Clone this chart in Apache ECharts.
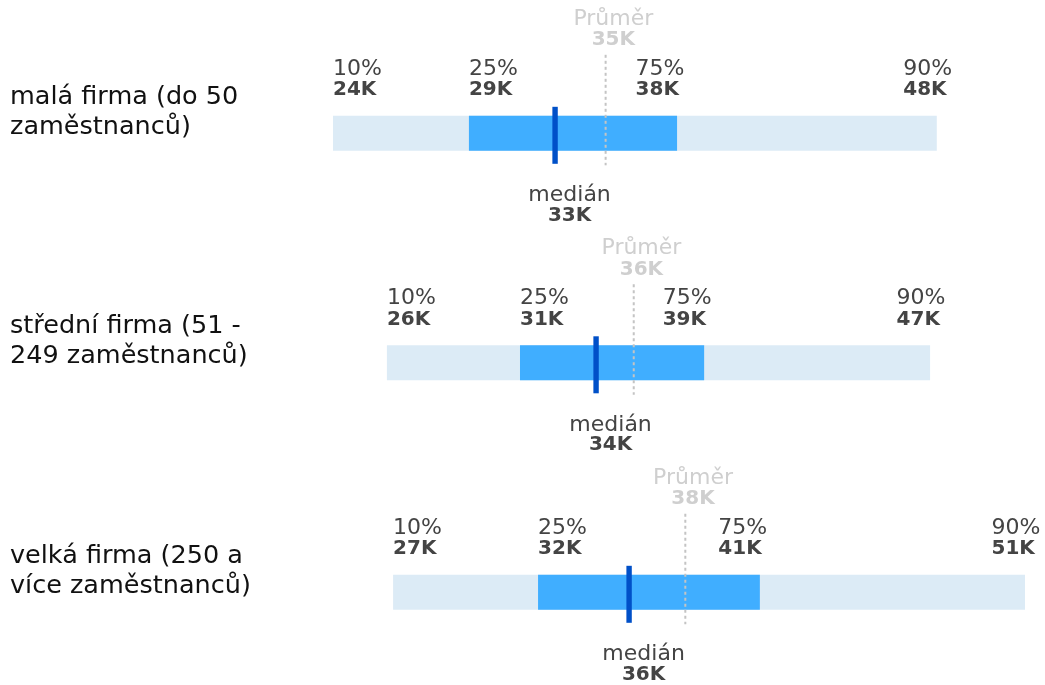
<!DOCTYPE html>
<html>
<head>
<meta charset="utf-8">
<script src="https://cdn.jsdelivr.net/npm/echarts@6/dist/echarts.min.js"></script>
<style>
html,body{margin:0;padding:0;background:#fff;}
#chart{width:1045px;height:685px;}
</style>
</head>
<body>
<div id="chart"></div>
<script>
const categories = ['malá firma (do 50\nzaměstnanců)', 'střední firma (51 -\n249 zaměstnanců)', 'velká firma (250 a\nvíce zaměstnanců)'];
const p10 = [24200, 26290, 26530];
const p25 = [29470, 31450, 32150];
const median = [32810, 34400, 35680];
const mean = [34770, 35860, 37860];
const p75 = [37540, 38590, 40750];
const p90 = [47610, 47350, 51030];
const pctLabels = ['10%', '25%', '75%', '90%'];
const meanLabel = 'Průměr';
const medianLabel = 'medián';

const FONT = '"DejaVu Sans", sans-serif';
const fmt = v => Math.round(v / 1000) + 'K';

function txt(text, x, y, opts) {
  return {
    type: 'text',
    style: Object.assign({
      text: text, x: x, y: y,
      fontFamily: FONT, fontSize: 22, fontWeight: 'normal',
      fill: '#444', align: 'left', verticalAlign: 'middle'
    }, opts || {})
  };
}

function renderItem(params, api) {
  const i = params.dataIndex;
  const c = api.coord([p10[i], i])[1];
  const X = v => api.coord([v, i])[0];
  const x10 = X(p10[i]), x25 = X(p25[i]), x50 = X(median[i]), xm = X(mean[i]), x75 = X(p75[i]), x90 = X(p90[i]);
  const children = [];
  children.push({ type: 'rect', shape: { x: x10, y: c - 17.5, width: x90 - x10, height: 35 }, style: { fill: '#dcebf6' } });
  children.push({ type: 'rect', shape: { x: x25, y: c - 17.5, width: x75 - x25, height: 35 }, style: { fill: '#40aeff' } });
  children.push({ type: 'line', shape: { x1: xm, y1: c - 78.5, x2: xm, y2: c + 32 }, style: { stroke: '#c4c4c4', lineWidth: 2, lineDash: [3, 3] } });
  children.push({ type: 'rect', shape: { x: x50 - 2.7, y: c - 26.5, width: 5.4, height: 57 }, style: { fill: '#0050c8' } });

  const pcts = [[x10, p10[i]], [x25, p25[i]], [x75 - 41.5, p75[i]], [x90 - 33.5, p90[i]]];
  pcts.forEach((p, k) => {
    children.push(txt(pctLabels[k], p[0], c - 64.5));
    children.push(txt(fmt(p[1]), p[0], c - 43.5, { fontSize: 20, fontWeight: 'bold' }));
  });
  children.push(txt(meanLabel, xm + 7.7, c - 114.5, { align: 'center', fill: '#cfcfcf' }));
  children.push(txt(fmt(mean[i]), xm + 7.7, c - 93.5, { align: 'center', fill: '#cfcfcf', fontSize: 20, fontWeight: 'bold' }));
  children.push(txt(medianLabel, x50 + 14.5, c + 62, { align: 'center' }));
  children.push(txt(fmt(median[i]), x50 + 14.5, c + 82, { align: 'center', fontSize: 20, fontWeight: 'bold' }));

  children.push(txt(categories[i], 10, c - 21, { fontSize: 25.5, lineHeight: 30, fill: '#111' }));
  return { type: 'group', children: children };
}

const chart = echarts.init(document.getElementById('chart'));
chart.setOption({
  animation: false,
  grid: { left: 333, right: 20, top: 133.3, height: 459 },
  xAxis: { type: 'value', min: Math.min(...p10), max: Math.max(...p90), show: false },
  yAxis: { type: 'category', data: categories, inverse: true, boundaryGap: false, show: false },
  series: [{
    type: 'custom',
    clip: false,
    renderItem: renderItem,
    data: categories.map((c, i) => [p10[i], i])
  }]
});
</script>
</body>
</html>
